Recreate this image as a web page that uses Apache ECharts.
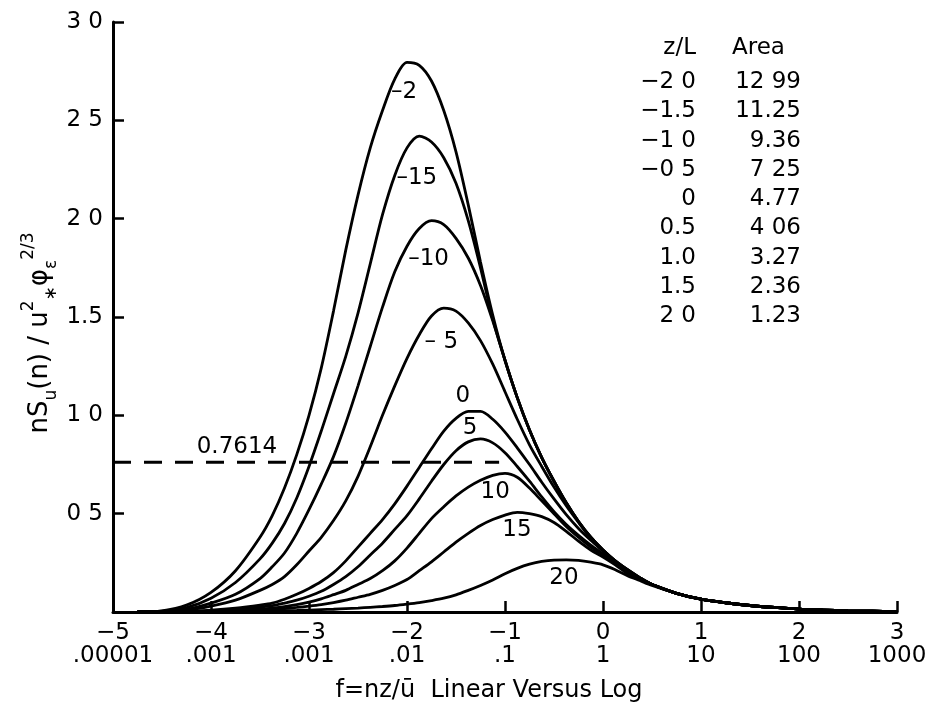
<!DOCTYPE html>
<html><head><meta charset="utf-8">
<script src="https://cdn.jsdelivr.net/npm/echarts@6.0.0/dist/echarts.min.js"></script>
<style>html,body{margin:0;padding:0;background:#fff}#c{width:938px;height:712px}</style>
</head><body><div id="c"></div>
<script>
// ---- data ----
const fGrid = [-4.75,-4.5,-4.25,-4,-3.75,-3.5,-3.375,-3.25,-3.125,-3,-2.875,-2.75,-2.625,-2.5,-2.375,-2.25,-2.125,-2,-1.875,-1.75,-1.625,-1.5,-1.375,-1.25,-1.125,-1,-0.875,-0.75,-0.625,-0.5,-0.375,-0.25,-0.125,0,0.125,0.25,0.375,0.5,0.75,1,1.25,1.5,1.75,2,2.25,2.5,2.75,3];
const zM20 = [0,0.006,0.035,0.10,0.21,0.38,0.49,0.63,0.80,1.00,1.24,1.53,1.84,2.12,2.36,2.55,2.71,2.795,2.78,2.70,2.55,2.34,2.07,1.78,1.51,1.28,1.09,0.925,0.785,0.665,0.555,0.46,0.38,0.315,0.26,0.215,0.175,0.14,0.095,0.065,0.047,0.033,0.023,0.015,0.010,0.006,0.004,0.002];
const zM15 = [0,0.004,0.022,0.07,0.15,0.27,0.35,0.45,0.58,0.74,0.92,1.11,1.30,1.52,1.77,2.02,2.22,2.36,2.42,2.39,2.31,2.18,1.99,1.75,1.49,1.28,1.09,0.925,0.785,0.665,0.555,0.46,0.38,0.315,0.26,0.215,0.175,0.14,0.095,0.065,0.047,0.033,0.023,0.015,0.010,0.006,0.004,0.002];
const zM10 = [0,0.003,0.013,0.045,0.09,0.17,0.23,0.30,0.40,0.52,0.65,0.79,0.96,1.15,1.35,1.55,1.73,1.86,1.95,1.99,1.97,1.90,1.80,1.66,1.48,1.28,1.09,0.925,0.785,0.665,0.555,0.46,0.38,0.315,0.26,0.215,0.175,0.14,0.095,0.065,0.047,0.033,0.023,0.015,0.010,0.006,0.004,0.002];
const zM05 = [0,0.002,0.009,0.03,0.06,0.11,0.14,0.18,0.24,0.31,0.38,0.465,0.565,0.69,0.84,1.00,1.15,1.29,1.41,1.505,1.545,1.53,1.47,1.38,1.26,1.12,0.98,0.85,0.74,0.635,0.54,0.455,0.375,0.31,0.255,0.21,0.17,0.14,0.095,0.065,0.047,0.033,0.023,0.015,0.010,0.006,0.004,0.002];
const zP00 = [0,0.001,0.004,0.01,0.02,0.035,0.045,0.065,0.09,0.12,0.155,0.20,0.26,0.33,0.40,0.47,0.55,0.64,0.735,0.83,0.92,0.985,1.02,1.02,0.98,0.915,0.835,0.75,0.66,0.575,0.495,0.425,0.365,0.31,0.255,0.205,0.17,0.14,0.095,0.065,0.047,0.033,0.023,0.015,0.010,0.006,0.004,0.002];
const zP05 = [0,0.001,0.003,0.006,0.013,0.025,0.032,0.045,0.06,0.08,0.105,0.14,0.18,0.23,0.29,0.35,0.42,0.49,0.575,0.665,0.75,0.82,0.865,0.88,0.86,0.81,0.74,0.665,0.585,0.51,0.445,0.39,0.34,0.295,0.25,0.205,0.165,0.14,0.095,0.065,0.047,0.033,0.023,0.015,0.010,0.006,0.004,0.002];
const zP10 = [0,0.001,0.002,0.004,0.008,0.015,0.02,0.027,0.037,0.05,0.067,0.088,0.11,0.14,0.17,0.21,0.26,0.325,0.40,0.475,0.535,0.59,0.635,0.67,0.695,0.705,0.685,0.63,0.565,0.50,0.435,0.38,0.33,0.29,0.245,0.20,0.165,0.14,0.095,0.065,0.047,0.033,0.023,0.015,0.010,0.006,0.004,0.002];
const zP15 = [0,0,0.001,0.003,0.005,0.01,0.013,0.017,0.023,0.03,0.038,0.048,0.06,0.075,0.09,0.11,0.135,0.165,0.21,0.255,0.305,0.355,0.40,0.44,0.47,0.493,0.507,0.50,0.485,0.455,0.41,0.36,0.315,0.28,0.24,0.195,0.165,0.14,0.095,0.065,0.047,0.033,0.023,0.015,0.010,0.006,0.004,0.002];
const zP20 = [0,0,0.001,0.002,0.003,0.005,0.006,0.007,0.008,0.01,0.012,0.014,0.017,0.02,0.024,0.028,0.033,0.04,0.048,0.058,0.07,0.087,0.11,0.135,0.163,0.195,0.222,0.243,0.257,0.264,0.265,0.262,0.253,0.24,0.215,0.185,0.16,0.135,0.095,0.065,0.047,0.033,0.023,0.015,0.010,0.006,0.004,0.002];

const dashLevel = 0.7614;
const dashEndX = -1.06;

const curveLabelText = ['–2','–15','–10','– 5','0','5','10','15','20','0.7614'];
const curveLabelX = [-2.03,-1.90,-1.78,-1.65,-1.43,-1.357,-1.10,-0.878,-0.398,-3.735];
const curveLabelY = [2.644,2.206,1.794,1.373,1.098,0.935,0.61,0.417,0.173,0.839];

const xTickTop = ['−5','−4','−3','−2','−1','0','1','2','3'];
const xTickBottom = ['.00001','.001','.001','.01','.1','1','10','100','1000'];
const yTickValues = [0.5,1,1.5,2,2.5,3];
const yTickTexts = ['0 5','1 0','1.5','2 0','2 5','3 0'];

const tableZL = ['−2 0','−1.5','−1 0','−0 5','0','0.5','1.0','1.5','2 0'];
const tableArea = ['12 99','11.25','9.36','7 25','4.77','4 06','3.27','2.36','1.23'];

// ---- chart ----
const FONT = "'DejaVu Sans', sans-serif";
const chart = echarts.init(document.getElementById('c'));
const curves = [zM20, zM15, zM10, zM05, zP00, zP05, zP10, zP15, zP20];

const series = curves.map(arr => ({
  type: 'line',
  data: fGrid.map((x, i) => [x, arr[i]]),
  showSymbol: false,
  smooth: 0.3,
  silent: true,
  lineStyle: { color: '#000', width: 2.8 },
  z: 3
}));
series.push({
  type: 'line',
  data: [[-5, dashLevel], [dashEndX, dashLevel]],
  showSymbol: false,
  silent: true,
  lineStyle: { color: '#000', width: 2.8, type: [18, 13] },
  z: 3
});
series.push({
  type: 'scatter',
  symbolSize: 0,
  silent: true,
  itemStyle: { opacity: 1 },
  data: curveLabelX.map((x, i) => [x, curveLabelY[i], curveLabelText[i]]),
  label: {
    show: true, position: 'inside', color: '#000', textBorderWidth: 0, opacity: 1,
    fontSize: 23, fontFamily: FONT,
    formatter: p => p.data[2]
  },
  z: 4
});

const txt = (x, y, text, align, size) => ({
  type: 'text', x: x, y: y,
  style: { text: text, fill: '#000', fontSize: size || 23, fontFamily: FONT, align: align, verticalAlign: 'middle' }
});
const graphics = [];
graphics.push(txt(696, 48, 'z/L', 'right'));
graphics.push(txt(732, 48, 'Area', 'left'));
tableZL.forEach((t, i) => {
  graphics.push(txt(696, 82 + 29.3 * i, t, 'right'));
  graphics.push(txt(801, 82 + 29.3 * i, tableArea[i], 'right'));
});
graphics.push(txt(489, 691, 'f=nz/ū  Linear Versus Log', 'center', 24));
graphics.push({
  type: 'text', x: 40, y: 333, rotation: Math.PI / 2,
  style: {
    text: '{a|nS}{s|u}{a|(n) / u}{p|2}{s|∗}{a|φ}{s|ε}{p|2/3}',
    align: 'center', verticalAlign: 'middle', fill: '#000',
    rich: {
      a: { fontSize: 26, fontFamily: FONT, fill: '#000', lineHeight: 40, verticalAlign: 'middle' },
      s: { fontSize: 17, fontFamily: FONT, fill: '#000', lineHeight: 40, verticalAlign: 'bottom' },
      p: { fontSize: 17, fontFamily: FONT, fill: '#000', lineHeight: 40, verticalAlign: 'top' }
    }
  }
});

chart.setOption({
  animation: false,
  backgroundColor: '#fff',
  grid: { left: 113, right: 41, top: 22, bottom: 100, containLabel: false },
  xAxis: {
    type: 'value', min: -5, max: 3, interval: 1,
    axisLine: { show: true, onZero: false, lineStyle: { color: '#000', width: 3 } },
    axisTick: { show: true, inside: true, length: 11, lineStyle: { color: '#000', width: 2.5 } },
    splitLine: { show: false },
    axisLabel: {
      color: '#000', fontSize: 23, fontFamily: FONT, lineHeight: 23, margin: 10,
      formatter: v => { const i = Math.round(v + 5); return xTickTop[i] + '\n' + xTickBottom[i]; }
    }
  },
  yAxis: {
    type: 'value', min: 0, max: 3, interval: 0.5,
    axisLine: { show: true, onZero: false, lineStyle: { color: '#000', width: 3 } },
    axisTick: { show: true, inside: true, length: 11, lineStyle: { color: '#000', width: 2.5 } },
    splitLine: { show: false },
    axisLabel: {
      color: '#000', fontSize: 23, fontFamily: FONT, margin: 10,
      formatter: v => { const i = yTickValues.findIndex(t => Math.abs(t - v) < 1e-6); return i < 0 ? '' : yTickTexts[i]; }
    }
  },
  graphic: graphics,
  series: series
});
</script>
</body></html>
